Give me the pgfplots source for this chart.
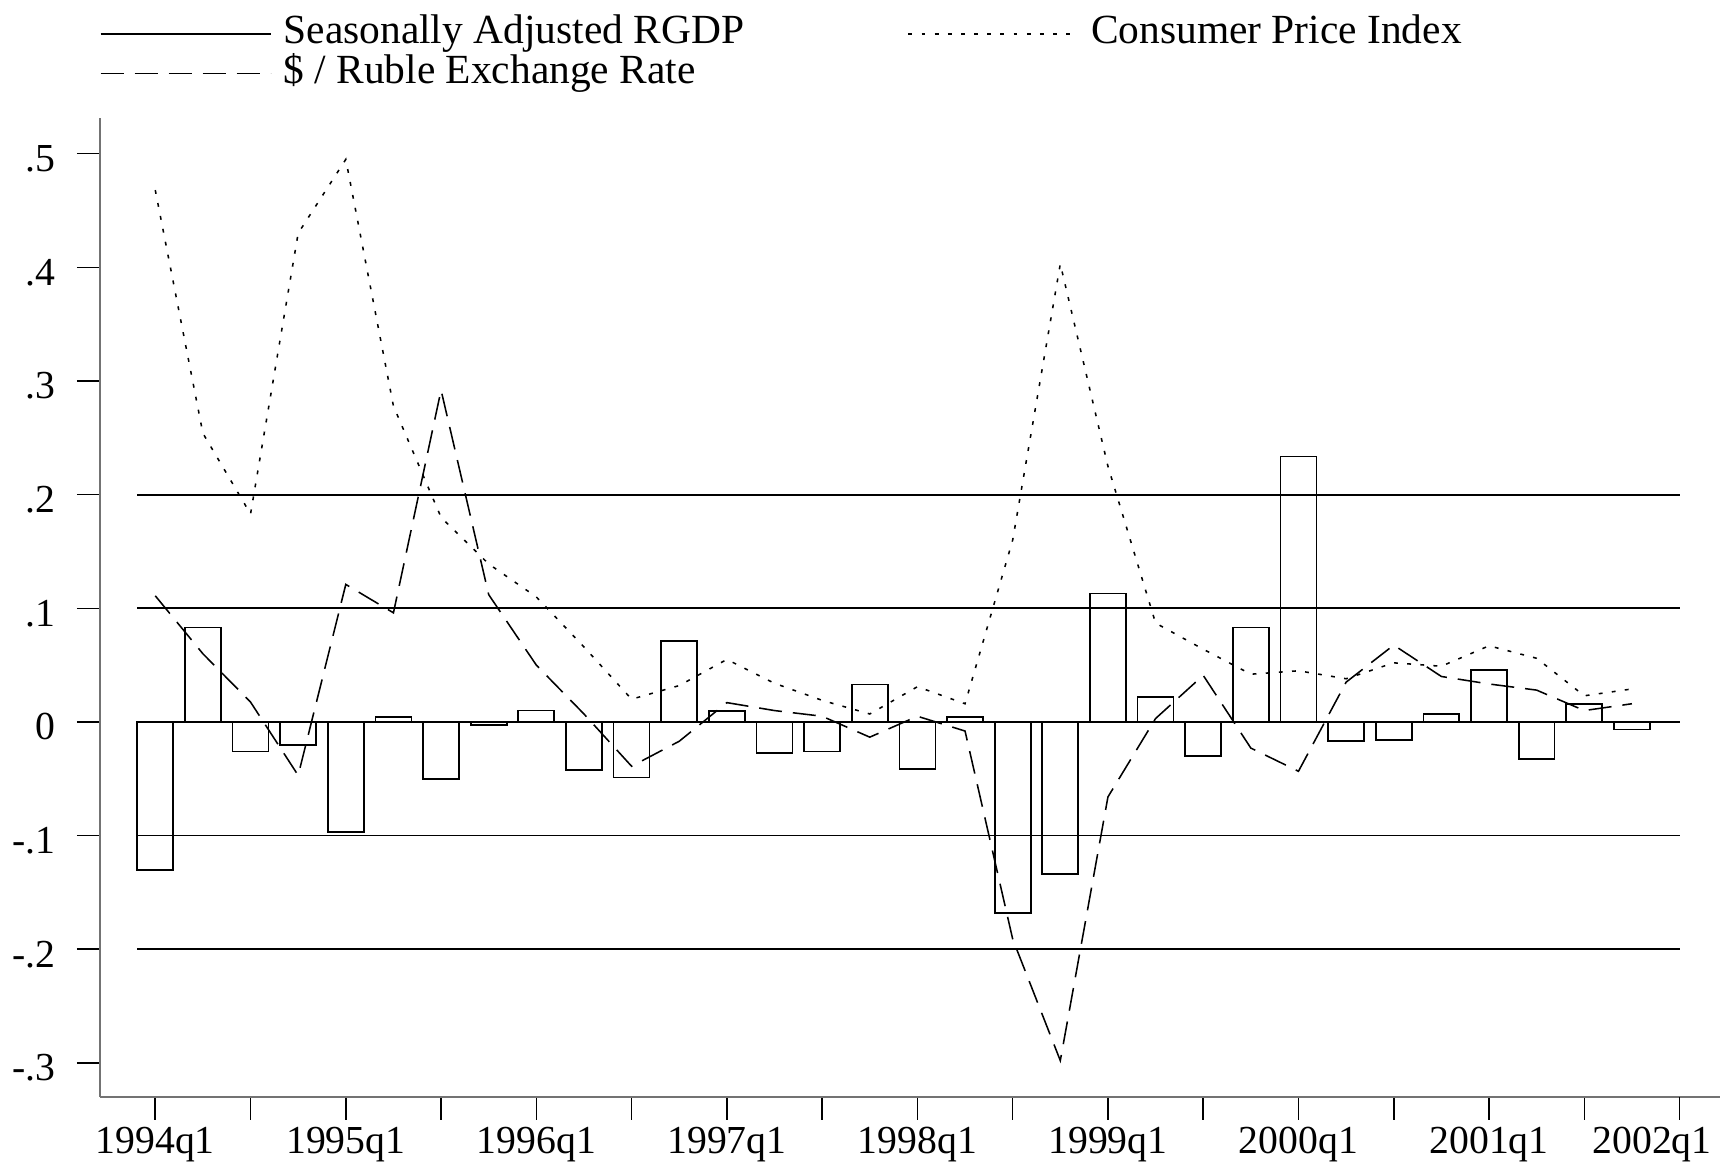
\documentclass[border=0pt]{standalone}
\usepackage{pgfplots}
\pgfplotsset{compat=1.18}
\usepackage{pgfplotstable}
\usepackage{fontspec}
\setmainfont{Liberation Serif}

\pgfplotstableread{
idx rgdp cpi exr
0 -0.130 0.468 0.111
1 0.083 0.254 0.060
2 -0.026 0.183 0.0175
3 -0.020 0.430 -0.047
4 -0.097 0.495 0.121
5 0.0045 0.278 0.096
6 -0.050 0.180 0.292
7 -0.003 0.139 0.112
8 0.010 0.110 0.050
9 -0.042 0.066 0.007
10 -0.049 0.020 -0.039
11 0.0715 0.032 -0.017
12 0.0093 0.055 0.017
13 -0.0275 0.034 0.010
14 -0.026 0.019 0.005
15 0.033 0.007 -0.0134
16 -0.0416 0.031 0.005
17 0.0041 0.016 -0.008
18 -0.168 0.160 -0.191
19 -0.134 0.403 -0.298
20 0.113 0.225 -0.066
21 0.022 0.087 0.003
22 -0.030 0.064 0.041
23 0.083 0.042 -0.023
24 0.2336 0.045 -0.0434
25 -0.0166 0.038 0.035
26 -0.0162 0.052 0.0676
27 0.0069 0.049 0.040
28 0.0459 0.067 0.0334
29 -0.0324 0.056 0.028
30 0.0155 0.023 0.010
31 -0.0066 0.029 0.016
}\datatable

\begin{document}
\begin{tikzpicture}
\begin{axis}[
  scale only axis,
  width=147.7mm, height=89.2mm,
  at={(0,0)}, anchor=south west,
  xmin=-1.164, xmax=32.85,
  ymin=-0.330, ymax=0.531,
  axis x line=bottom, axis y line=left,
  axis line style={-, black!55, line width=0.5pt},
  tick align=outside,
  major tick length=2.1mm,
  tick style={black, line width=0.4pt},
  xtick={0,2,4,6,8,10,12,14,16,18,20,22,24,26,28,30},
  xticklabels={1994q1,{},1995q1,{},1996q1,{},1997q1,{},1998q1,{},1999q1,{},2000q1,{},2001q1,{}},
  extra x ticks={32},
  extra x tick labels={2002q1},
  extra x tick style={xticklabel style={anchor=north east, xshift=3.0mm}},
  ytick={-0.3,-0.2,-0.1,0,0.1,0.2,0.3,0.4,0.5},
  yticklabels={-.3,-.2,-.1,0,.1,.2,.3,.4,.5},
  ticklabel style={font=\fontsize{10.3}{12}\selectfont},
  xticklabel style={inner sep=0pt, anchor=north, yshift=-0.55mm},
  yticklabel style={inner sep=0pt, anchor=east, xshift=-1.9mm, yshift=-0.45mm},
  legend columns=2,
  legend cell align=left,
  legend style={draw=none, fill=none, inner sep=0pt, outer sep=0pt,
    at={(axis description cs:0,1)}, anchor=south west, yshift=2.1mm,
    font=\fontsize{10.75}{12}\selectfont,
    nodes={inner sep=0pt, text height=2.5mm, text depth=1.1mm},
    /tikz/every odd column/.append style={column sep=1.1mm},
    /tikz/every even column/.append style={column sep=14.9mm}},
  legend image code/.code={\draw[#1] (0mm,0.2mm) -- (15.5mm,0.2mm);},
]
% reference lines
\addplot[black, line width=0.45pt, forget plot] coordinates {(-0.375,0.2) (32,0.2)};
\addplot[black, line width=0.45pt, forget plot] coordinates {(-0.375,0.1) (32,0.1)};
\addplot[black, line width=0.45pt, forget plot] coordinates {(-0.375,0) (32,0)};
\addplot[black, line width=0.45pt, forget plot] coordinates {(-0.375,-0.1) (32,-0.1)};
\addplot[black, line width=0.45pt, forget plot] coordinates {(-0.375,-0.2) (32,-0.2)};
% bars
\addplot[ybar, bar width=0.755, draw=black, fill=none, line width=0.45pt,
  legend image code/.code={\draw[black, line width=0.45pt] (0mm,0.2mm) -- (15.5mm,0.2mm);}]
  table[x=idx, y=rgdp] {\datatable};
\addlegendentry{Seasonally Adjusted RGDP}
\addplot[black, line width=0.4pt, dash pattern=on 0.35mm off 0.85mm] table[x=idx, y=cpi] {\datatable};
\addlegendentry{Consumer Price Index}
\addplot[black, line width=0.4pt, dash pattern=on 2.1mm off 1mm] table[x=idx, y=exr] {\datatable};
\addlegendentry{\$ / Ruble Exchange Rate}
\end{axis}
\pgfresetboundingbox
\path[use as bounding box] (-9.1mm,-6.1mm) rectangle (147.7mm,100mm);
\end{tikzpicture}
\end{document}
